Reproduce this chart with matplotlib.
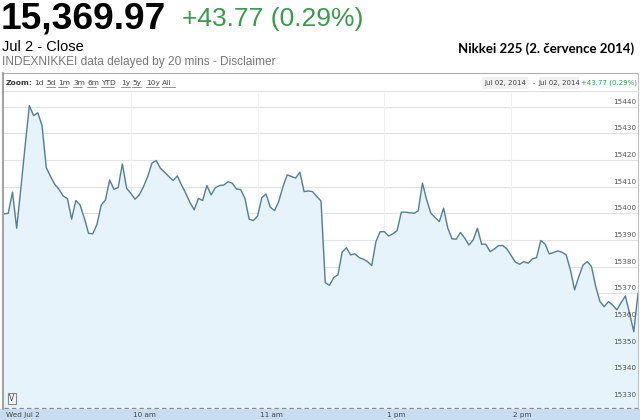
import numpy as np
import matplotlib.pyplot as plt
from matplotlib.patches import Rectangle
from matplotlib.lines import Line2D

# Nikkei 225 intraday, Jul 2 2014, one point per 2 trading minutes (9:00 -> 15:00, lunch removed)
minutes = np.arange(0, 301, 2)
prices = [
    15399.8, 15400.0, 15407.9, 15394.4, 15409.5, 15425.3, 15440.4, 15436.6, 15437.7, 15432.8,
    15417.1, 15413.8, 15410.9, 15409.0, 15406.5, 15405.5, 15397.8, 15404.8, 15403.1, 15398.2,
    15392.5, 15392.3, 15395.9, 15403.1, 15405.0, 15412.5, 15409.0, 15409.6, 15418.5, 15409.4,
    15407.5, 15405.3, 15406.9, 15410.0, 15413.8, 15418.8, 15419.8, 15416.9, 15415.4, 15413.8,
    15412.3, 15414.0, 15410.6, 15407.5, 15404.0, 15401.3, 15405.6, 15404.8, 15410.4, 15406.9,
    15409.6, 15410.4, 15410.6, 15411.8, 15411.3, 15409.1, 15408.9, 15405.6, 15397.8, 15397.3,
    15399.0, 15405.9, 15407.2, 15402.3, 15401.0, 15404.4, 15410.0, 15414.4, 15413.8, 15413.2,
    15415.4, 15408.1, 15408.4, 15408.1, 15406.3, 15404.6, 15374.0, 15373.0, 15375.9, 15376.9,
    15385.4, 15387.1, 15384.4, 15384.8, 15383.4, 15382.8, 15381.9, 15380.4, 15389.4, 15393.1,
    15393.1, 15391.5, 15392.3, 15393.5, 15400.4, 15400.4, 15400.2, 15400.0, 15400.9, 15411.3,
    15405.0, 15400.0, 15398.4, 15396.9, 15401.9, 15394.4, 15390.4, 15390.3, 15392.8, 15390.7,
    15388.1, 15390.0, 15394.4, 15388.4, 15388.4, 15385.6, 15386.6, 15387.9, 15387.9, 15386.6,
    15384.1, 15381.7, 15380.9, 15381.9, 15381.3, 15382.9, 15383.4, 15389.8, 15388.5, 15384.8,
    15385.3, 15385.9, 15385.4, 15384.4, 15378.8, 15371.3, 15376.3, 15380.6, 15381.9, 15380.0,
    15372.5, 15366.9, 15365.0, 15366.9, 15365.6, 15363.8, 15366.5, 15369.0, 15362.5, 15355.6,
    15369.97,
]

y_ticks = [15330, 15340, 15350, 15360, 15370, 15380, 15390, 15400, 15410, 15420, 15430, 15440]
x_ticks = [0, 60, 120, 180, 240]
x_labels = ['Wed Jul 2', '10 am', '11 am', '1 pm', '2 pm']
zoom_labels = ['1d', '5d', '1m', '3m', '6m', 'YTD', '1y', '5y', '10y', 'All']
zoom_pos = [34, 46, 58, 73, 87, 101, 121, 132, 146, 162]

W, H = 640, 420
plt.rcParams['font.family'] = ['Liberation Sans', 'DejaVu Sans']
fig = plt.figure(figsize=(W / 100, H / 100), dpi=100)


def px(x, y):
    return x / W, 1 - y / H


# header text
fig.text(*px(1, 19), '15,369.97', fontsize=26.7, fontweight='bold', va='center', ha='left')
fig.text(*px(182, 19), '+43.77 (0.29%)', fontsize=19, color='#3a9a4e', va='center', ha='left')
fig.text(*px(2, 47), 'Jul 2 - Close', fontsize=10.5, va='center', ha='left')
fig.text(*px(2, 62), 'INDEXNIKKEI data delayed by 20 mins - Disclaimer', fontsize=8.6,
         color='#777777', va='center', ha='left')
fig.text(*px(634, 49), 'Nikkei 225 (2. července 2014)', fontsize=9.5, fontweight='bold',
         family=['Lato', 'DejaVu Sans'], va='center', ha='right')

# chart frame + toolbar
fig.add_artist(Line2D([2 / W, 638 / W], [1 - 73 / H] * 2, color='#b0b0b0', lw=0.8))
fig.add_artist(Line2D([638 / W] * 2, [1 - 73 / H, 1 - 409 / H], color='#c0c0c0', lw=0.8))
fig.add_artist(Line2D([2 / W, 638 / W], [1 - 91 / H] * 2, color='#e0e0e0', lw=0.8))
fig.add_artist(Line2D([2.5 / W] * 2, [1 - 73 / H, 1 - 409 / H], color='#909090', lw=1.2))

fig.text(*px(6, 83), 'Zoom:', fontsize=5.4, fontweight='bold', family='DejaVu Sans',
         color='#333333', va='center')
for zx, lab in zip(zoom_pos, zoom_labels):
    fig.text(*px(zx, 83), lab, fontsize=5.4, family='DejaVu Sans', color='#444444',
             va='center')
    w = 4.2 * len(lab) + 0.5
    if lab != '1d':
        fig.add_artist(Line2D([zx / W, (zx + w) / W], [1 - 87 / H] * 2, color='#666666', lw=0.5))

for x0, x1, lab in [(482, 528, 'Jul 02, 2014'), (539, 579, 'Jul 02, 2014')]:
    fig.add_artist(Rectangle(px(x0, 89), (x1 - x0) / W, 12 / H, facecolor='#f1f1f1',
                             edgecolor='none'))
    fig.text(*px((x0 + x1) / 2, 83), lab, fontsize=5.0, family='DejaVu Sans',
             color='#444444', va='center', ha='center')
fig.text(*px(533.5, 83), '-', fontsize=5.0, family='DejaVu Sans', color='#444444',
         va='center', ha='center')
fig.text(*px(637, 83), '+43.77 (0.29%)', fontsize=5.0, family='DejaVu Sans',
         color='#3a9a4e', va='center', ha='right')

# main plot area
ax = fig.add_axes([4 / W, 1 - 408 / H, 634 / W, 315 / H])
ax.set_xlim(0, 300)
ax.set_ylim(15327, 15445.1)
for v in y_ticks:
    ax.axhline(v, color='#e2e2e2', lw=0.8, zorder=1)
for m in x_ticks[1:]:
    ax.axvline(m, color='#f0f0f0', lw=0.8, zorder=1)
ax.fill_between(minutes, prices, 15327, color='#e6f3fb', zorder=2)
ax.plot(minutes, prices, color='#557f90', lw=1.0, zorder=3)
for v in y_ticks:
    ax.annotate(str(v), (1, v), xycoords=('axes fraction', 'data'), xytext=(-1, 1.5),
                textcoords='offset points', ha='right', va='bottom', fontsize=5.2,
                family='DejaVu Sans', color='#555555')
ax.axhline(15327, color='#888888', lw=0.9, ls=(0, (3.5, 2.5)), zorder=4, clip_on=False)
ax.set_xticks([])
ax.set_yticks([])
for s in ax.spines.values():
    s.set_visible(False)
ax.patch.set_alpha(0)

# 'V' button
fig.add_artist(Rectangle(px(8, 404), 8 / W, 11 / H, facecolor='#f4f4f4',
                         edgecolor='#888888', lw=0.8))
fig.text(*px(12, 398.5), 'V', fontsize=5.5, family='DejaVu Sans', color='#444444',
         ha='center', va='center')

# time axis band
bax = fig.add_axes([0, 0, 1, 11 / H])
bax.set_xlim(-4 / 634 * 300, 300 + 2 / 634 * 300)
bax.set_ylim(0, 1)
bax.set_facecolor('#c8ddf1')
for m, lab in zip(x_ticks, x_labels):
    bax.text(m + 1, 0.45, lab, fontsize=5.2, family='DejaVu Sans', color='#444444',
             va='center', ha='left')
bax.set_xticks([])
bax.set_yticks([])
for s in bax.spines.values():
    s.set_visible(False)

fig.savefig('out.png', dpi=100)
